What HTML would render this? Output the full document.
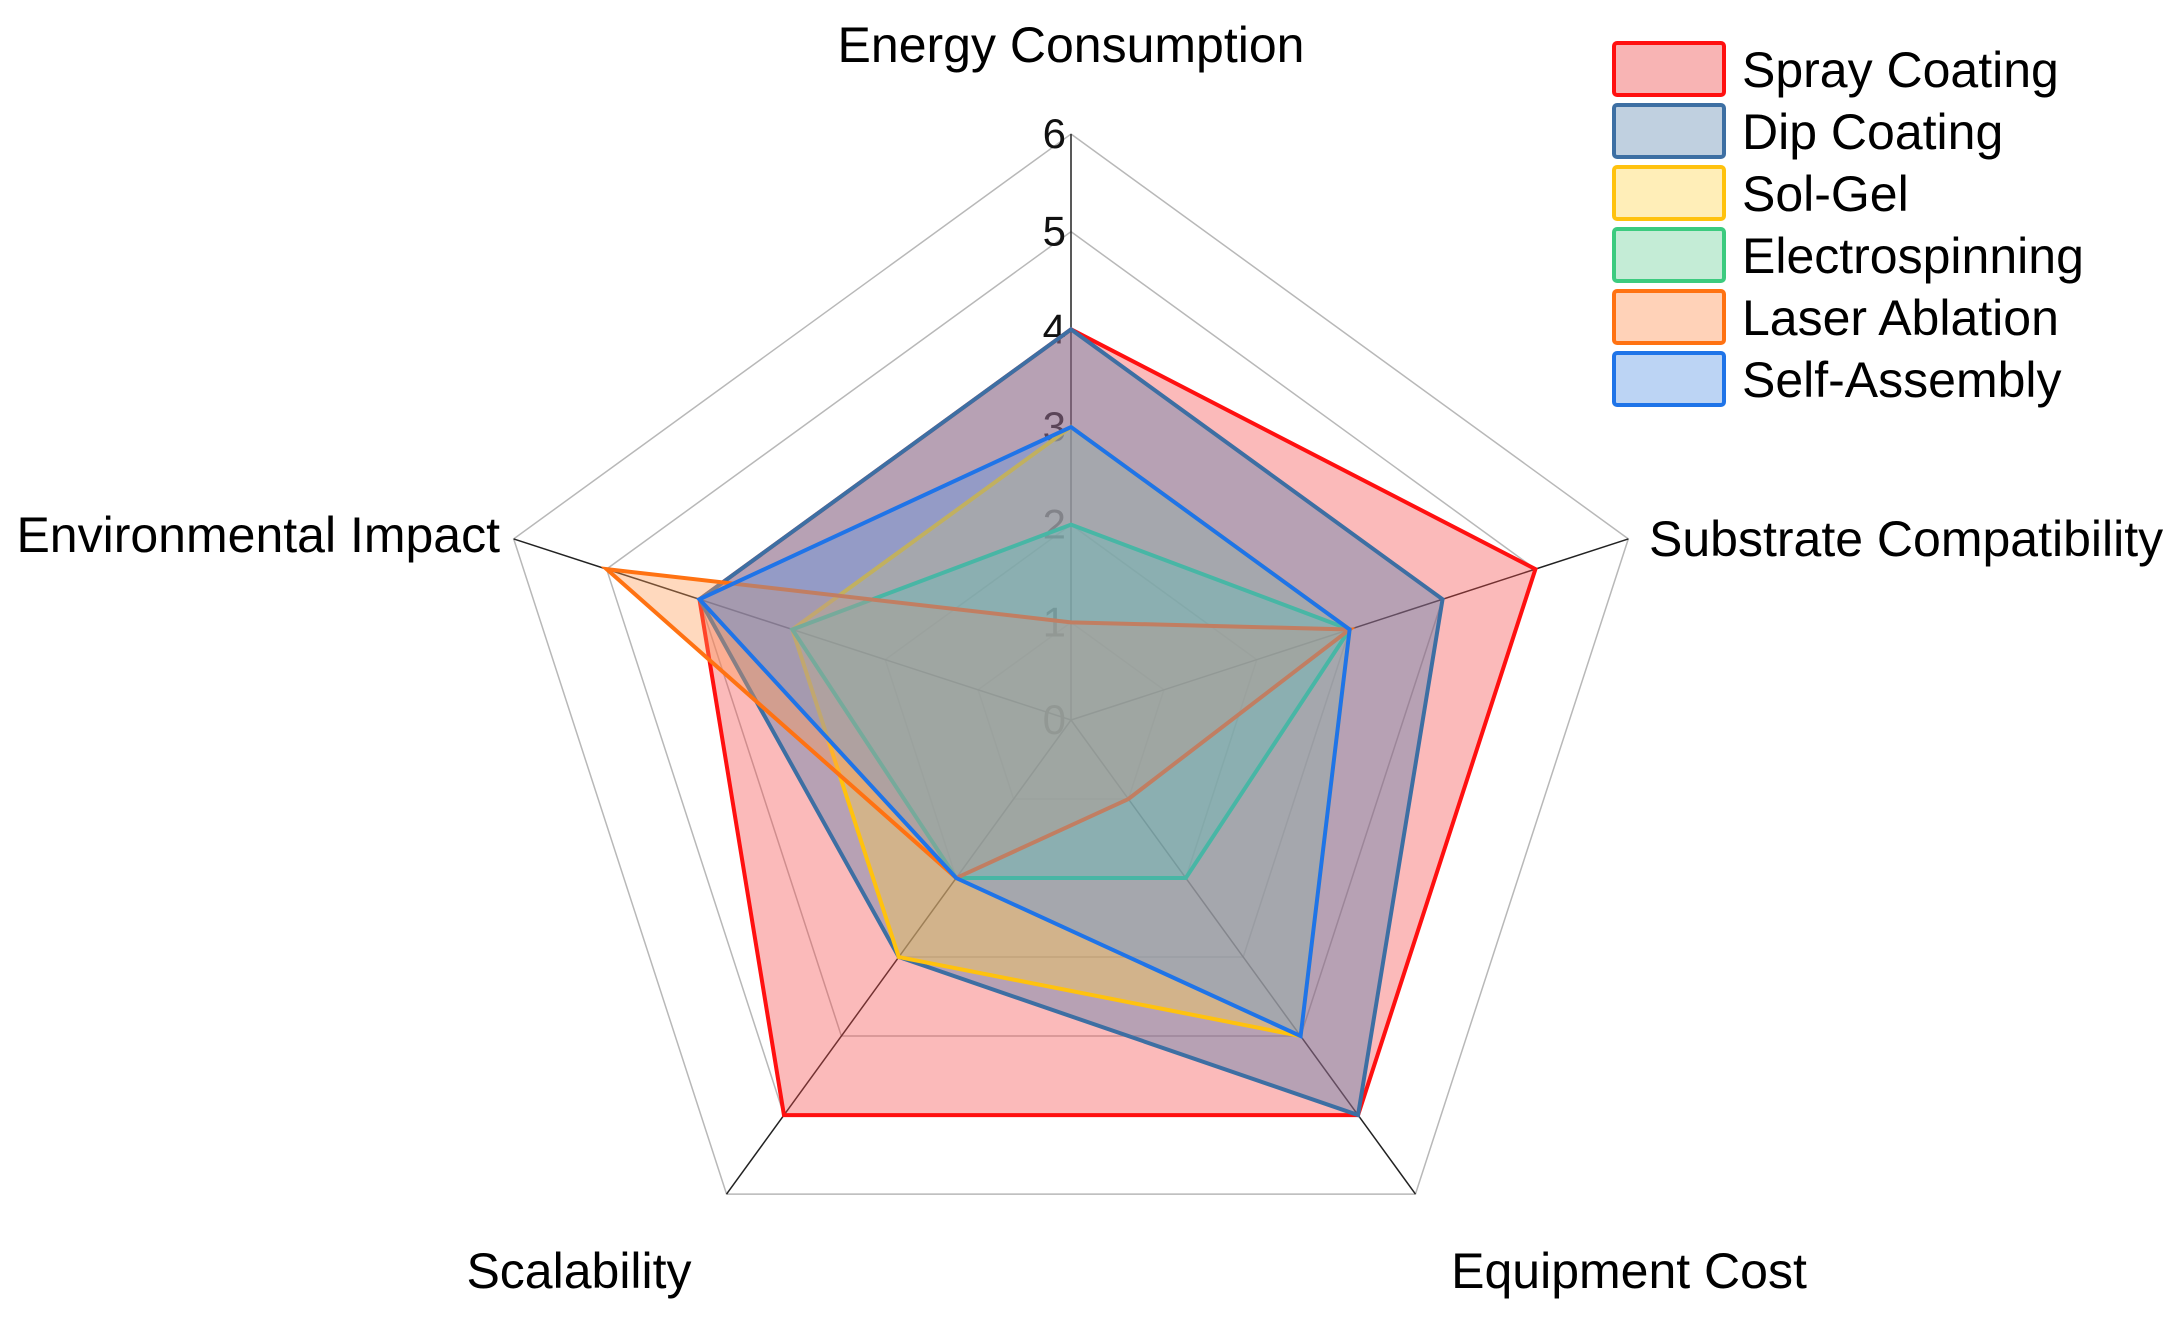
<!DOCTYPE html>
<html><head><meta charset="utf-8"><style>
html,body{margin:0;padding:0;background:#fff;}
svg{display:block;font-family:"Liberation Sans",Arial,sans-serif;}
</style></head><body>
<svg id="chart" width="2176" height="1318" viewBox="0 0 2176 1318" xmlns="http://www.w3.org/2000/svg">
<g id="grid"></g>
<g id="ticks"></g>
<g id="series"></g>
<g id="axislabels"></g>
<g id="legend"></g>
</svg>
<script>
const axes = ["Energy Consumption","Substrate Compatibility","Equipment Cost","Scalability","Environmental Impact"];
const seriesNames = ["Spray Coating","Dip Coating","Sol-Gel","Electrospinning","Laser Ablation","Self-Assembly"];
const sprayCoating = [4,5,5,5,4];
const dipCoating = [4,4,5,3,4];
const solGel = [3,3,4,3,3];
const electrospinning = [2,3,2,2,3];
const laserAblation = [1,3,1,2,5];
const selfAssembly = [3,3,4,2,4];
const tickLabels = ["0","1","2","3","4","5","6"];
const maxVal = 6;

const allSeries=[sprayCoating,dipCoating,solGel,electrospinning,laserAblation,selfAssembly];
const strokes=["#ff1010","#3d6fa3","#ffc20e","#3ccb7f","#ff7212","#1f74e8"];
const fills=["#f44a4a","#4a78aa","#ffd34a","#63d49a","#ff9a55","#5b93e6"];
const legFills=["#f8b4b4","#c0d0e0","#ffeeb8","#c4ecd6","#ffd2b8","#bcd4f4"];
const NS="http://www.w3.org/2000/svg";
const cx=1071, cy=720, R=586;
function rScale(v){return v/maxVal*R;}
function ang(i){return -Math.PI/2+i*2*Math.PI/axes.length;}
function pt(i,v){const r=rScale(v);return [cx+r*Math.cos(ang(i)),cy+r*Math.sin(ang(i))];}
function mk(t,a,p){const e=document.createElementNS(NS,t);for(const k in a)e.setAttribute(k,a[k]);p.appendChild(e);return e;}

const grid=document.getElementById('grid');
for(let k=1;k<=maxVal;k++){
  const pts=axes.map((_,i)=>pt(i,k).join(',')).join(' ');
  const p=mk('polygon',{points:pts,fill:'none',stroke:'#b8b8b8','stroke-width':1.5},grid);
  
  
}
axes.forEach((a,i)=>{
  const [x,y]=pt(i,maxVal);
  const l=mk('line',{x1:cx,y1:cy,x2:x,y2:y,stroke:'#222','stroke-width':1.5},grid);
  
  
});
const ticks=document.getElementById('ticks');
tickLabels.forEach((t,k)=>{
  const [x,y]=pt(0,k);
  const e=mk('text',{x:x-5,y:y+14,'text-anchor':'end','font-size':42,fill:'#111'},ticks);
  e.textContent=t;
  
  
});
const sg=document.getElementById('series');
allSeries.forEach((s,j)=>{
  const pts=s.map((v,i)=>pt(i,v).join(',')).join(' ');
  const p=mk('polygon',{points:pts,fill:fills[j],'fill-opacity':0.38,stroke:strokes[j],'stroke-width':4,'stroke-linejoin':'miter'},sg);
  
  
});
const al=document.getElementById('axislabels');
const labelPos=[[1071,62,'middle'],[1649,556,'start'],[1629,1288,'middle'],[579,1288,'middle'],[500,552,'end']];
axes.forEach((a,i)=>{
  const e=mk('text',{x:labelPos[i][0],y:labelPos[i][1],'text-anchor':labelPos[i][2],'font-size':50,fill:'#000'},al);
  e.textContent=a;
  
  
});
const lg=document.getElementById('legend');
seriesNames.forEach((n,j)=>{
  const y=43+j*62;
  const r=mk('rect',{x:1614,y:y,width:110,height:52,rx:3,fill:legFills[j],stroke:strokes[j],'stroke-width':4},lg);
  
  
  const t=mk('text',{x:1742,y:y+44,'font-size':50,fill:'#000'},lg);
  t.textContent=n;
  
  
});
</script>
</body></html>
